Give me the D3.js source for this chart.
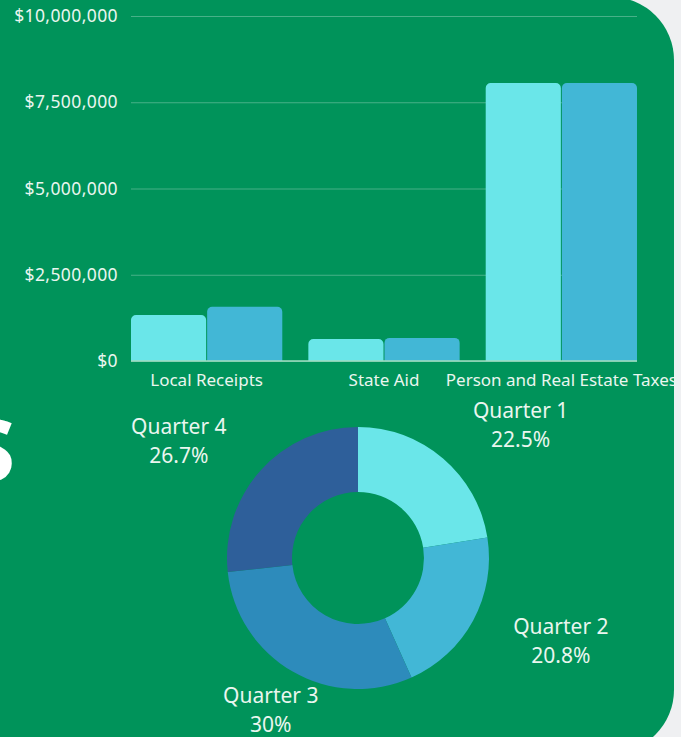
<!DOCTYPE html>
<html>
<head>
<meta charset="utf-8">
<script src="https://cdn.jsdelivr.net/npm/d3@7"></script>
<style>
  html, body { margin: 0; padding: 0; background: #eff0f2; }
  svg { display: block; }
  text { font-family: "Noto Sans", sans-serif; fill: #eaf6ef; }
</style>
</head>
<body>
<svg id="chart" width="681" height="737"></svg>
<script>
// bar chart data
const categories = ["Local Receipts", "State Aid", "Person and Real Estate Taxes"];
const seriesA = [1330000, 640000, 8060000];
const seriesB = [1570000, 670000, 8060000];
const yTicks = [0, 2500000, 5000000, 7500000, 10000000];

// donut data
const quarters = ["Quarter 1", "Quarter 2", "Quarter 3", "Quarter 4"];
const quarterShares = [22.5, 20.8, 30, 26.7];
const quarterLabels = ["22.5%", "20.8%", "30%", "26.7%"];

const barColors = ["#6ae6e9", "#42b7d6"];
const pieColors = ["#6ae6e9", "#42b7d6", "#2d8bbb", "#2e5f9a"];
const green = "#00935a";

const svg = d3.select("#chart");

// panel behind everything
function drawPanel () {
  const r = 63, right = 674, top = -3, bottom = 753;
  const p = d3.path();
  p.moveTo(0, top);
  p.lineTo(right - r, top);
  p.arcTo(right, top, right, top + r, r);
  p.lineTo(right, bottom - r);
  p.arcTo(right, bottom, right - r, bottom, r);
  p.lineTo(0, bottom);
  p.closePath();
  svg.append("path").attr("d", p.toString()).attr("fill", green);

  // big letter cut off by the left edge
  svg.append("text")
    .attr("x", 15)
    .attr("y", 481)
    .attr("text-anchor", "end")
    .style("font-size", "86px")
    .style("font-weight", 800)
    .style("fill", "#ffffff")
    .text("S");
}

function roundedTop (x, y, w, h, r) {
  r = Math.min(r, h, w / 2);
  const p = d3.path();
  p.moveTo(x, y + h);
  p.lineTo(x, y + r);
  p.arcTo(x, y, x + r, y, r);
  p.lineTo(x + w - r, y);
  p.arcTo(x + w, y, x + w, y + r, r);
  p.lineTo(x + w, y + h);
  p.closePath();
  return p.toString();
}

function drawBars () {
  const left = 131, right = 637, top = 16, base = 361;

  const y = d3.scaleLinear().domain([0, 10000000]).range([base, top]);
  const x0 = d3.scaleBand().domain(categories).range([left, right])
    .paddingInner(0.147).paddingOuter(0);
  const x1 = d3.scaleBand().domain([0, 1]).range([0, x0.bandwidth()]);

  const axis = d3.axisLeft(y)
    .tickValues(yTicks)
    .tickFormat(d3.format("$,"))
    .tickSizeInner(-(right - left))
    .tickSizeOuter(0)
    .tickPadding(13);

  const g = svg.append("g").attr("transform", `translate(${left},0)`).call(axis);
  g.select(".domain").remove();
  g.selectAll(".tick line")
    .attr("stroke", "rgba(255,255,255,0.28)")
    .attr("stroke-width", 1);
  g.selectAll(".tick text")
    .style("font-size", "17.5px")
    .style("letter-spacing", "0.4px")
    .style("font-family", "'Noto Sans', sans-serif")
    .attr("fill", "#eaf6ef");

  const rows = categories.map((c, i) => ({ c, vals: [seriesA[i], seriesB[i]] }));

  const grp = svg.append("g").selectAll("g").data(rows).join("g")
    .attr("transform", d => `translate(${x0(d.c)},0)`);

  grp.selectAll("path").data(d => d.vals).join("path")
    .attr("d", (v, j) => roundedTop(x1(j) + (j ? 0.5 : 0), y(v), x1.bandwidth() - 0.5, y(0) - y(v), 5))
    .attr("fill", (v, j) => barColors[j]);

  // baseline
  svg.append("line")
    .attr("x1", left).attr("x2", right)
    .attr("y1", base).attr("y2", base)
    .attr("stroke", "#9fdcc0").attr("stroke-width", 1.5);

  svg.append("g").selectAll("text").data(categories).join("text")
    .attr("x", d => x0(d) + x0.bandwidth() / 2)
    .attr("y", 386)
    .attr("text-anchor", "middle")
    .style("font-size", "17px")
    .text(d => d);
}

function drawDonut () {
  const cx = 358, cy = 558, outer = 131, inner = 66, labelR = 175;

  const pie = d3.pie().sort(null).value(d => d);
  const arcs = pie(quarterShares);
  const arc = d3.arc().innerRadius(inner).outerRadius(outer);

  const g = svg.append("g").attr("transform", `translate(${cx},${cy})`);
  g.selectAll("path").data(arcs).join("path")
    .attr("d", arc)
    .attr("fill", (d, i) => pieColors[i]);

  const lab = g.selectAll("text").data(arcs).join("text")
    .attr("text-anchor", "middle")
    .style("font-size", "21px")
    .attr("transform", d => {
      const a = (d.startAngle + d.endAngle) / 2;
      const s = Math.sin(a), c = Math.cos(a);
      const shift = Math.abs(c) > 0.8 ? 0 : 49 * Math.sign(s);
      return `translate(${labelR * s + shift},${-labelR * c})`;
    });
  lab.append("tspan").attr("x", 0).attr("y", -7).text((d, i) => quarters[i]);
  lab.append("tspan").attr("x", 0).attr("y", 22).text((d, i) => quarterLabels[i]);
}

drawPanel();
drawBars();
drawDonut();
</script>
</body>
</html>
